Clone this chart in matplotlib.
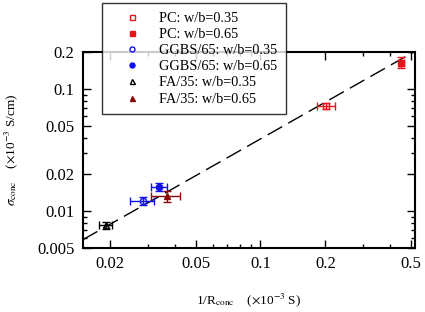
import numpy as np
import matplotlib.pyplot as plt
from matplotlib.ticker import FixedLocator, FixedFormatter, NullFormatter

plt.rcParams['font.family'] = ['Liberation Serif', 'DejaVu Serif']
plt.rcParams['mathtext.fontset'] = 'stix'

labels = ['PC: w/b=0.35', 'PC: w/b=0.65', 'GGBS/65: w/b=0.35',
          'GGBS/65: w/b=0.65', 'FA/35: w/b=0.35', 'FA/35: w/b=0.65']
inv_r = [0.202, 0.45, 0.0284, 0.034, 0.0192, 0.0367]
inv_r_err = [0.019, 0.013, 0.0035, 0.003, 0.0013, 0.0058]
sigma = [0.073, 0.164, 0.0121, 0.0158, 0.0077, 0.0133]
sigma_err = [0.004, 0.017, 0.0009, 0.0012, 0.0005, 0.0013]
colors = ['#e8141c', '#e8141c', '#1010f0', '#1010f0', 'black', '#8b0a0a']
markers = ['s', 's', 'o', 'o', '^', '^']
filled = [False, True, False, True, False, True]

fit_x = [0.015, 0.52]
fit_slope = 0.39

fig = plt.figure(figsize=(4.25, 3.12), dpi=100)
ax = fig.add_axes([0.195, 0.205, 0.781, 0.628])

ax.plot(fit_x, [fit_slope * v for v in fit_x], color='black', lw=1.0,
        dashes=(12, 5))

handles = []
for i in range(len(labels)):
    fc = colors[i] if filled[i] else 'none'
    ax.errorbar(inv_r[i], sigma[i], xerr=inv_r_err[i], yerr=sigma_err[i],
                fmt='none', ecolor=colors[i], elinewidth=1.0, capsize=3,
                capthick=1.0)
    h, = ax.plot(inv_r[i], sigma[i], linestyle='none', marker=markers[i],
                 markersize=4.5, markerfacecolor=fc, markeredgecolor=colors[i],
                 markeredgewidth=1.0)
    handles.append(h)

ax.set_xscale('log')
ax.set_yscale('log')
ax.set_xlim(0.015, 0.52)
ax.set_ylim(0.005, 0.2)

xt = [0.02, 0.05, 0.1, 0.2, 0.5]
yt = [0.005, 0.01, 0.02, 0.05, 0.1, 0.2]
ax.xaxis.set_major_locator(FixedLocator(xt))
ax.xaxis.set_major_formatter(FixedFormatter([str(v) for v in xt]))
ax.yaxis.set_major_locator(FixedLocator(yt))
ax.yaxis.set_major_formatter(FixedFormatter([str(v) for v in yt]))
ax.xaxis.set_minor_formatter(NullFormatter())
ax.yaxis.set_minor_formatter(NullFormatter())

ax.tick_params(which='both', direction='in', top=True, right=True,
               labelsize=12, width=1.0)
ax.tick_params(which='major', length=6, pad=6)
ax.tick_params(which='minor', length=3)
for s in ax.spines.values():
    s.set_linewidth(1.5)

ax.set_xlabel(r'1/R$_{\mathrm{conc}}$    ($\times$10$^{-3}$ S)', fontsize=9.5,
              labelpad=14)
ax.set_ylabel(r'$\sigma_{\mathrm{conc}}$    ($\times$10$^{-3}$ S/cm)',
              fontsize=9.5, labelpad=12)

leg = fig.legend(handles, labels, loc='upper left',
                 bbox_to_anchor=(0.24, 0.99), fontsize=10.3,
                 frameon=True, fancybox=False, edgecolor='black',
                 handlelength=3.0, handletextpad=0.4, labelspacing=0.22,
                 borderpad=0.6, borderaxespad=0, markerscale=0.8)
leg.get_frame().set_linewidth(1.0)

fig.savefig('out.png', dpi=100)
